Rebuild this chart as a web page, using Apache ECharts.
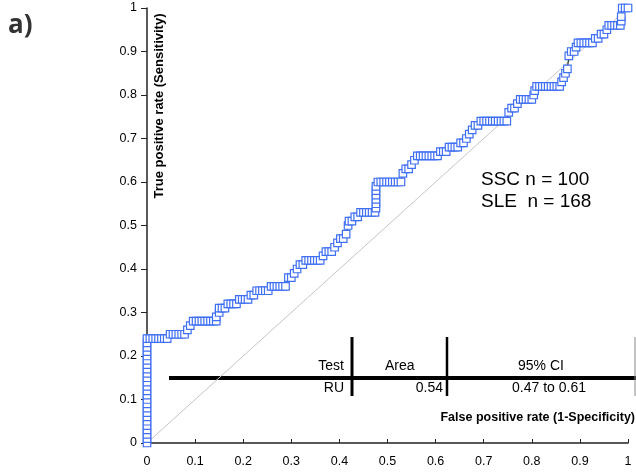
<!DOCTYPE html>
<html><head><meta charset="utf-8">
<script src="https://cdn.jsdelivr.net/npm/echarts@6/dist/echarts.min.js"></script>
<style>html,body{margin:0;padding:0;background:#fff}#c{width:636px;height:474px}</style>
</head><body><div id="c"></div>
<script>
// ROC curve points (False positive rate, True positive rate)
const fpr = [
0,0,0,0,0,0,0,0,0,0,0,0,0,0,0,0,0,0,0,0,0,0,0,0,0,
0.006,0.012,0.018,0.024,0.030,0.036,0.042,
0.048,0.054,0.060,0.066,0.072,0.078,
0.084,0.090,
0.096,0.102,0.108,0.114,0.120,0.126,0.132,0.138,0.144,
0.144,0.150,
0.150,0.156,0.162,
0.168,0.174,0.180,0.186,
0.192,0.198,0.204,0.210,
0.216,0.222,
0.228,0.234,0.240,0.246,0.252,
0.258,0.264,0.270,0.276,0.282,0.288,
0.294,0.300,0.306,0.312,0.318,0.324,
0.330,0.336,0.342,0.348,0.354,0.360,
0.366,0.372,0.378,0.384,0.390,0.396,0.402,0.408,0.414,
0.418,0.420,0.426,0.432,0.438,
0.444,0.450,0.456,0.462,0.468,0.474,
0.476,0.476,0.476,0.476,0.476,0.476,
0.480,0.486,0.492,0.498,0.504,0.510,0.516,0.522,0.528,
0.532,0.538,0.544,0.550,0.556,
0.562,0.568,0.574,0.580,0.586,0.592,0.598,0.604,
0.610,0.616,0.622,
0.628,0.634,0.640,0.646,
0.652,0.658,0.664,0.670,0.676,0.682,0.688,
0.694,0.700,0.706,0.712,0.718,0.724,0.730,0.736,0.742,0.748,
0.752,0.758,0.764,0.770,
0.776,0.782,0.788,0.794,0.800,
0.804,0.806,
0.810,0.816,0.822,0.828,0.834,0.840,0.846,0.852,0.858,
0.862,0.866,0.870,0.874,
0.877,0.882,0.888,0.892,
0.896,0.902,0.908,0.914,0.920,0.926,
0.932,0.938,0.944,0.950,0.956,
0.960,0.966,0.972,0.978,0.984,
0.986,0.986,
0.988,0.994,1.000
];
const tpr = [
0,0.01,0.02,0.03,0.04,0.05,0.06,0.07,0.08,0.09,0.10,0.11,0.12,0.13,0.14,0.15,0.16,0.17,0.18,0.19,0.20,0.21,0.22,0.23,0.24,
0.24,0.24,0.24,0.24,0.24,0.24,0.24,
0.25,0.25,0.25,0.25,0.25,0.25,
0.26,0.27,
0.28,0.28,0.28,0.28,0.28,0.28,0.28,0.28,0.28,
0.29,0.30,
0.31,0.31,0.31,
0.32,0.32,0.32,0.32,
0.33,0.33,0.33,0.33,
0.34,0.34,
0.35,0.35,0.35,0.35,0.35,
0.36,0.36,0.36,0.36,0.36,0.36,
0.38,0.38,0.39,0.40,0.41,0.41,
0.42,0.42,0.42,0.42,0.42,0.42,
0.43,0.44,0.44,0.44,0.45,0.46,0.47,0.47,0.48,
0.50,0.51,0.51,0.52,0.52,
0.53,0.53,0.53,0.53,0.53,0.53,
0.54,0.55,0.56,0.57,0.58,0.59,
0.60,0.60,0.60,0.60,0.60,0.60,0.60,0.60,0.60,
0.62,0.63,0.63,0.64,0.65,
0.66,0.66,0.66,0.66,0.66,0.66,0.66,0.66,
0.67,0.67,0.67,
0.68,0.68,0.68,0.68,
0.69,0.69,0.70,0.71,0.72,0.73,0.73,
0.74,0.74,0.74,0.74,0.74,0.74,0.74,0.74,0.74,0.74,
0.76,0.77,0.77,0.78,
0.79,0.79,0.79,0.79,0.79,
0.80,0.81,
0.82,0.82,0.82,0.82,0.82,0.82,0.82,0.82,0.82,
0.83,0.84,0.85,0.86,
0.89,0.90,0.90,0.91,
0.92,0.92,0.92,0.92,0.92,0.92,
0.93,0.93,0.94,0.94,0.95,
0.96,0.96,0.96,0.96,0.96,
0.97,0.98,
1.00,1.00,1.00
];
const diagonal = [[0, 0], [1, 1]];
const tableHeader = ['Test', 'Area', '95% CI'];
const tableRow = ['RU', '0.54', '0.47 to 0.61'];
const sampleNotes = ['SSC n = 100', 'SLE  n = 168'];

const chart = echarts.init(document.getElementById('c'), null, {renderer: 'canvas'});
const F = '"Liberation Sans", Arial, sans-serif';
const fmt = v => String(+(+v).toFixed(1));
const rocData = fpr.map((x, i) => [x, tpr[i]]);

chart.setOption({
  animation: false,
  backgroundColor: '#fff',
  grid: {left: 147, right: 8, top: 8, bottom: 31},
  xAxis: {
    type: 'value', min: 0, max: 1, interval: 0.1,
    axisLine: {lineStyle: {color: '#222', width: 1.5}},
    axisTick: {inside: true, length: 4, lineStyle: {color: '#222'}},
    axisLabel: {formatter: fmt, color: '#000', fontFamily: F, fontSize: 12.5, margin: 12},
    splitLine: {show: false}
  },
  yAxis: {
    type: 'value', min: 0, max: 1, interval: 0.1,
    axisLine: {show: true, lineStyle: {color: '#222', width: 1.5}},
    axisTick: {show: true, inside: false, length: 6, lineStyle: {color: '#222'}},
    axisLabel: {formatter: fmt, color: '#000', fontFamily: F, fontSize: 12.5, margin: 10},
    splitLine: {show: false}
  },
  series: [
    {type: 'line', data: diagonal, symbol: 'none', silent: true,
     lineStyle: {color: '#c4c4c4', width: 1}, z: 1},
    {type: 'line', data: rocData, symbol: 'rect', symbolSize: 7.5,
     lineStyle: {color: '#000', width: 1},
     itemStyle: {color: '#fff', borderColor: '#3f6ff2', borderWidth: 1.2}, z: 3}
  ],
  graphic: [
    {type: 'text', left: 8, top: 13, style: {text: 'a)', font: 'bold 26px "Open Sans", sans-serif', fill: '#333'}},
    {type: 'text', x: 159, y: 106, rotation: Math.PI / 2, style: {text: 'True positive rate (Sensitivity)', font: 'bold 13px ' + F, fill: '#000', align: 'center', verticalAlign: 'middle'}},
    {type: 'text', x: 635, y: 418, style: {text: 'False positive rate (1-Specificity)', font: 'bold 12.5px ' + F, fill: '#000', align: 'right', verticalAlign: 'middle'}},
    {type: 'text', x: 481, y: 180, style: {text: sampleNotes[0], font: '19px ' + F, fill: '#000', verticalAlign: 'middle'}},
    {type: 'text', x: 481, y: 202, style: {text: sampleNotes[1], font: '19px ' + F, fill: '#000', verticalAlign: 'middle'}},
    {type: 'line', shape: {x1: 169, y1: 378, x2: 636, y2: 378}, style: {stroke: '#000', lineWidth: 4}},
    {type: 'line', shape: {x1: 352, y1: 337, x2: 352, y2: 396}, style: {stroke: '#000', lineWidth: 3}},
    {type: 'line', shape: {x1: 447, y1: 337, x2: 447, y2: 396}, style: {stroke: '#000', lineWidth: 2.5}},
    {type: 'line', shape: {x1: 635, y1: 337, x2: 635, y2: 396}, style: {stroke: '#888', lineWidth: 1}},
    {type: 'text', x: 344, y: 366, style: {text: tableHeader[0], font: '14px ' + F, fill: '#000', align: 'right', verticalAlign: 'middle'}},
    {type: 'text', x: 385, y: 366, style: {text: tableHeader[1], font: '14px ' + F, fill: '#000', align: 'left', verticalAlign: 'middle'}},
    {type: 'text', x: 541, y: 366, style: {text: tableHeader[2], font: '14px ' + F, fill: '#000', align: 'center', verticalAlign: 'middle'}},
    {type: 'text', x: 344, y: 388, style: {text: tableRow[0], font: '14px ' + F, fill: '#000', align: 'right', verticalAlign: 'middle'}},
    {type: 'text', x: 443, y: 388, style: {text: tableRow[1], font: '14px ' + F, fill: '#000', align: 'right', verticalAlign: 'middle'}},
    {type: 'text', x: 549, y: 388, style: {text: tableRow[2], font: '14px ' + F, fill: '#000', align: 'center', verticalAlign: 'middle'}}
  ]
});
</script>
</body></html>
